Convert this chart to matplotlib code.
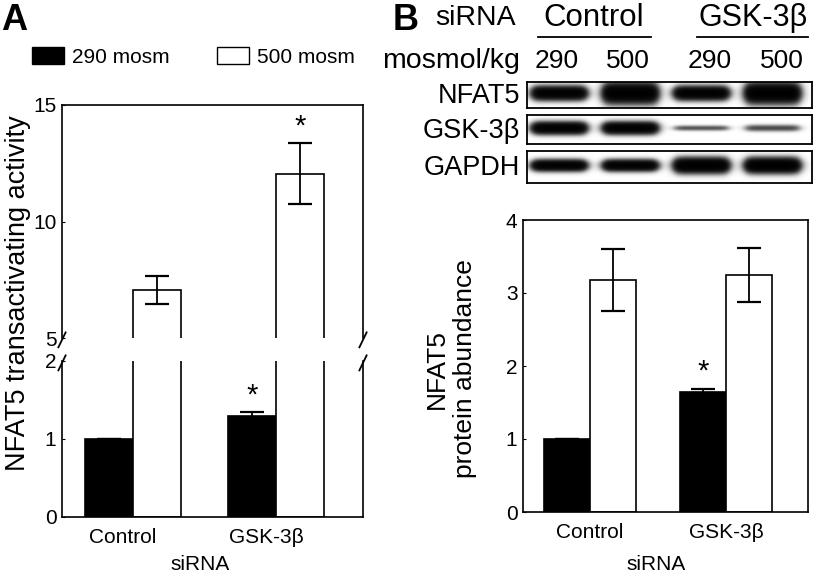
import numpy as np
import matplotlib
matplotlib.use("Agg")
import matplotlib.pyplot as plt
from matplotlib.patches import Patch

plt.rcParams['font.family'] = ['Liberation Sans', 'DejaVu Sans']

# data
groups = ["Control", "GSK-3\u03b2"]
series = ["290 mosm", "500 mosm"]

# panel A: NFAT5 transactivating activity
a_290 = [1.0, 1.30]
a_290_err = [0.0, 0.04]
a_500 = [7.05, 12.05]
a_500_err = [0.60, 1.32]

# panel B: NFAT5 protein abundance
b_290 = [1.0, 1.65]
b_290_err = [0.0, 0.04]
b_500 = [3.18, 3.25]
b_500_err = [0.42, 0.37]

# western blot: band strength per lane (Control 290, Control 500, GSK 290, GSK 500)
blot_rows = ["NFAT5", "GSK-3\u03b2", "GAPDH"]
blot_intensity = [[0.9, 1.0, 0.9, 1.0],
                  [0.9, 0.9, 0.22, 0.25],
                  [0.9, 0.9, 1.0, 1.0]]
blot_thickness = [[0.22, 0.32, 0.22, 0.32],
                  [0.18, 0.18, 0.08, 0.10],
                  [0.15, 0.15, 0.20, 0.20]]
lane_osm = ["290", "500", "290", "500"]

W, H = 819, 575
fig = plt.figure(figsize=(W / 100, H / 100), dpi=100)


def box(l, t, r, b):
    return [l / W, 1 - b / H, (r - l) / W, (b - t) / H]


def ftext(x, y, s, **kw):
    fig.text(x / W, 1 - y / H, s, **kw)


x = np.arange(len(groups))
bw = 0.336
tick_fs = 15
err_kw = dict(ecolor="black", elinewidth=1.3, capsize=8.5, capthick=1.6)

# ---------- panel A (broken axis) ----------
ax_up = fig.add_axes(box(62, 105, 363, 338))
ax_lo = fig.add_axes(box(62, 361, 363, 517))
for ax in (ax_up, ax_lo):
    ax.bar(x - bw / 2, a_290, bw, color="black", edgecolor="black", linewidth=1.2,
           yerr=a_290_err, error_kw=err_kw)
    ax.bar(x + bw / 2, a_500, bw, color="white", edgecolor="black", linewidth=1.2,
           yerr=a_500_err, error_kw=err_kw)
    ax.set_xlim(-0.497, 1.608)
    ax.tick_params(axis="y", direction="in", length=2, labelsize=tick_fs, pad=4)
    for s in ax.spines.values():
        s.set_linewidth(1.2)
ax_up.set_ylim(5, 15)
ax_up.set_yticks([5, 10, 15])
ax_up.spines["bottom"].set_visible(False)
ax_up.set_xticks([])
ax_lo.set_ylim(0, 2)
ax_lo.set_yticks([0, 1, 2])
ax_lo.spines["top"].set_visible(False)
ax_lo.set_xticks(x - 0.07)
ax_lo.set_xticklabels(groups, fontsize=tick_fs)
ax_lo.tick_params(axis="x", length=0, pad=8)

# break marks
for ax, yy, dy in ((ax_up, 0, 0.04), (ax_lo, 1, 0.06)):
    for xx in (0, 1):
        ax.plot([xx - 0.012, xx + 0.012], [yy - dy, yy + dy * 0.6],
                transform=ax.transAxes, color="black", lw=1.3, clip_on=False)

ax_lo.annotate("*", (x[1] - bw / 2, a_290[1] + a_290_err[1]), xytext=(0, 2),
               textcoords="offset points", ha="center", va="bottom", fontsize=21)
ax_up.annotate("*", (x[1] + bw / 2, a_500[1] + a_500_err[1]), xytext=(0, 2),
               textcoords="offset points", ha="center", va="bottom", fontsize=21)

ftext(18, 293, "NFAT5 transactivating activity", rotation=90, ha="center", va="center",
      fontsize=19.5)
ftext(200, 565, "siRNA", ha="center", va="center", fontsize=tick_fs)
ftext(1, 20, "A", ha="left", va="center", fontsize=26, fontweight="bold")

fig.legend(handles=[Patch(facecolor="black", edgecolor="black"),
                    Patch(facecolor="white", edgecolor="black")],
           labels=series, loc="upper left", bbox_to_anchor=(32 / W, 1 - 47 / H),
           ncol=2, frameon=False, fontsize=tick_fs, handlelength=1.55, handleheight=0.9,
           handletextpad=0.35, columnspacing=2.3, borderpad=0, borderaxespad=0)

# ---------- panel B: blot ----------
xs = np.linspace(0, 4, 400)
ys = np.linspace(0, 1, 60)
XX, YY = np.meshgrid(xs, ys)
row_boxes = [(82, 108), (115, 144), (151, 183)]
for r, (t, b) in enumerate(row_boxes):
    axb = fig.add_axes(box(527, t, 812, b))
    img = np.zeros_like(XX)
    for i in range(4):
        c = i + 0.45
        hprof = 1 / (1 + np.exp((np.abs(XX - c) - 0.36) / 0.035))
        vprof = np.exp(-((YY - 0.45) / blot_thickness[r][i]) ** 2)
        img += blot_intensity[r][i] * hprof * vprof
    dark = 1 - np.exp(-5.0 * img)
    axb.imshow(dark, cmap="gray_r", vmin=0, vmax=1.0, extent=[0, 4, 1, 0],
               aspect="auto", interpolation="bilinear")
    axb.set_xticks([])
    axb.set_yticks([])
    for s in axb.spines.values():
        s.set_linewidth(1.3)
    ftext(520, (t + b) / 2 + 1, blot_rows[r], ha="right", va="center", fontsize=19.5)

lane_px = [557, 628, 710, 782]
for px, lab in zip(lane_px, lane_osm):
    ftext(px, 61, lab, ha="center", va="center", fontsize=19)
ftext(520, 61, "mosmol/kg", ha="right", va="center", fontsize=20.5)
ftext(516, 18, "siRNA", ha="right", va="center", fontsize=20.5)
ftext(594, 18, "Control", ha="center", va="center", fontsize=22.5)
ftext(753, 18, "GSK-3\u03b2", ha="center", va="center", fontsize=22)
fig.add_artist(plt.Line2D([538 / W, 651 / W], [1 - 37 / H] * 2, color="black", lw=1.3))
fig.add_artist(plt.Line2D([697 / W, 808 / W], [1 - 37 / H] * 2, color="black", lw=1.3))
ftext(393, 20, "B", ha="left", va="center", fontsize=26, fontweight="bold")

# ---------- panel B: bars ----------
axB = fig.add_axes(box(523, 220, 808, 512))
axB.bar(x - bw / 2, b_290, 0.342, color="black", edgecolor="black", linewidth=1.2,
        yerr=b_290_err, error_kw=err_kw)
axB.bar(x + bw / 2, b_500, 0.342, color="white", edgecolor="black", linewidth=1.2,
        yerr=b_500_err, error_kw=err_kw)
axB.set_xlim(-0.493, 1.603)
axB.set_ylim(0, 4)
axB.set_yticks([0, 1, 2, 3, 4])
axB.tick_params(axis="y", direction="in", length=2, labelsize=tick_fs, pad=4)
axB.set_xticks(x)
axB.set_xticklabels(groups, fontsize=tick_fs)
axB.tick_params(axis="x", length=0, pad=8)
for s in axB.spines.values():
    s.set_linewidth(1.2)
axB.annotate("*", (x[1] - bw / 2, b_290[1] + b_290_err[1]), xytext=(0, 2),
             textcoords="offset points", ha="center", va="bottom", fontsize=21)
ftext(451, 369, "NFAT5\nprotein abundance", rotation=90, ha="center", va="center",
      fontsize=19, linespacing=1.25, multialignment="center")
ftext(656, 565, "siRNA", ha="center", va="center", fontsize=tick_fs)

fig.savefig("out.png", dpi=100)
